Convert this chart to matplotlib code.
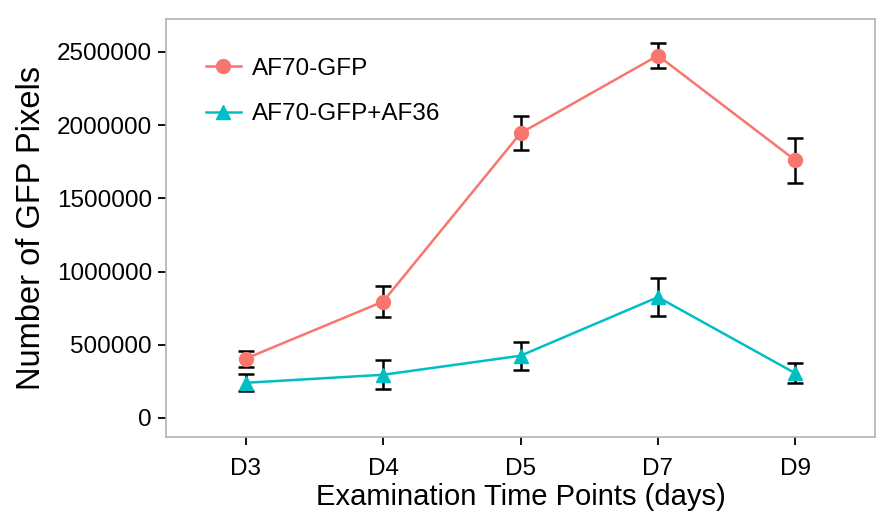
import numpy as np
import matplotlib
matplotlib.use('Agg')
import matplotlib.pyplot as plt

plt.rcParams['font.family'] = ['Liberation Sans', 'DejaVu Sans']

days = ['D3', 'D4', 'D5', 'D7', 'D9']
gfp = [405000, 795000, 1945000, 2475000, 1760000]
gfp_err = [55000, 103000, 115000, 85000, 155000]
gfp_af36 = [240000, 295000, 425000, 825000, 305000]
gfp_af36_err = [58000, 100000, 95000, 128000, 68000]
yticks = [0, 500000, 1000000, 1500000, 2000000, 2500000]

fig = plt.figure(figsize=(8.92, 5.32), dpi=100)
ax = fig.add_axes([0.1861, 0.1786, 0.7949, 0.7857])

x = np.arange(len(days))
ax.errorbar(x, gfp, yerr=gfp_err, fmt='none', ecolor='black', elinewidth=1.8,
            capsize=5.5, capthick=1.8, zorder=2)
ax.errorbar(x, gfp_af36, yerr=gfp_af36_err, fmt='none', ecolor='black', elinewidth=1.8,
            capsize=5.5, capthick=1.8, zorder=2)
ax.plot(x, gfp, '-o', color='#F8766D', lw=1.8, markersize=10, label='AF70-GFP', zorder=3)
ax.plot(x, gfp_af36, '-^', color='#00BFC4', lw=1.8, markersize=10, label='AF70-GFP+AF36', zorder=3)

ax.set_xlim(-0.58, 4.58)
ax.set_ylim(-130000, 2725000)
ax.set_xticks(x)
ax.set_xticklabels(days)
ax.set_yticks(yticks)
ax.set_yticklabels([str(v) for v in yticks])
ax.tick_params(labelsize=17.5, length=6, width=1.3, color='black', labelcolor='black', pad=4)
ax.tick_params(axis='x', pad=9)
for s in ax.spines.values():
    s.set_color('#B3B3B3')
    s.set_linewidth(1.2)

ax.set_xlabel('Examination Time Points (days)', fontsize=21, labelpad=2)
ax.set_ylabel('Number of GFP Pixels', fontsize=23.5, labelpad=7)

ax.legend(loc='upper left', frameon=False, fontsize=17.5, handlelength=1.45,
          handletextpad=0.45, borderaxespad=0, labelspacing=0.95,
          bbox_to_anchor=(0.042, 0.93))

fig.savefig('out.png', dpi=100)
